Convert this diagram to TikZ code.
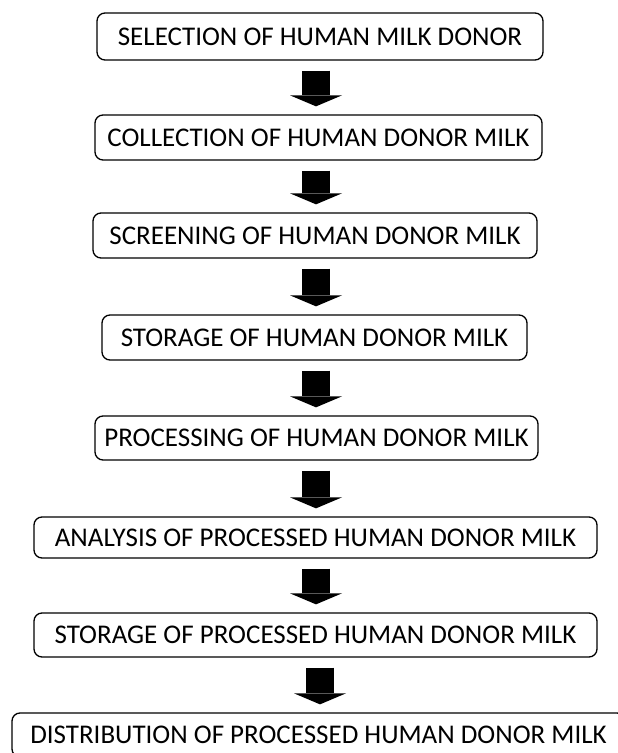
\documentclass[tikz,border=0pt]{standalone}
\usepackage{fontspec}
\setmainfont{Carlito}
\usetikzlibrary{arrows.meta}
\begin{document}
\begin{tikzpicture}[line cap=round,line join=round,x=1pt,y=1pt,
  stepbox/.style={draw,line width=1.3pt,rounded corners=8pt,inner sep=0pt,
    font=\fontsize{27}{31}\selectfont},
  blockarrow/.style={line width=28pt,line cap=butt,shorten <=10pt,shorten >=8pt,
    -{Triangle[width=52pt,length=11pt,line width=0pt]}}]
\useasboundingbox (0,0) rectangle (618,753);
\node[stepbox,minimum width=446pt,minimum height=47pt] (sel) at (320,716.5) {SELECTION OF HUMAN MILK DONOR};
\node[stepbox,minimum width=447pt,minimum height=45pt] (col) at (318.5,615.5) {COLLECTION OF HUMAN DONOR MILK};
\node[stepbox,minimum width=444pt,minimum height=45pt] (scr) at (315,517.5) {SCREENING OF HUMAN DONOR MILK};
\node[stepbox,minimum width=425pt,minimum height=45pt] (sto) at (314.5,415.5) {STORAGE OF HUMAN DONOR MILK};
\node[stepbox,minimum width=443pt,minimum height=44pt] (pro) at (316.5,315) {PROCESSING OF HUMAN DONOR MILK};
\node[stepbox,minimum width=563pt,minimum height=41pt] (ana) at (315.5,215.5) {ANALYSIS OF PROCESSED HUMAN DONOR MILK};
\node[stepbox,minimum width=563pt,minimum height=44pt] (pst) at (315.5,118) {STORAGE OF PROCESSED HUMAN DONOR MILK};
\node[stepbox,minimum width=613pt,minimum height=44pt] (dis) at (318.5,18) {DISTRIBUTION OF PROCESSED HUMAN DONOR MILK};
\coordinate (ax) at (316,0);
\coordinate (bx) at (320,0);
\draw[blockarrow] (sel.south -| ax) -- (col.north -| ax);
\draw[blockarrow] (col.south -| ax) -- (scr.north -| ax);
\draw[blockarrow] (scr.south -| ax) -- (sto.north -| ax);
\draw[blockarrow] (sto.south -| ax) -- (pro.north -| ax);
\draw[blockarrow] (pro.south -| ax) -- (ana.north -| ax);
\draw[blockarrow] (ana.south -| ax) -- (pst.north -| ax);
\draw[blockarrow] (pst.south -| bx) -- (dis.north -| bx);
\end{tikzpicture}
\end{document}
